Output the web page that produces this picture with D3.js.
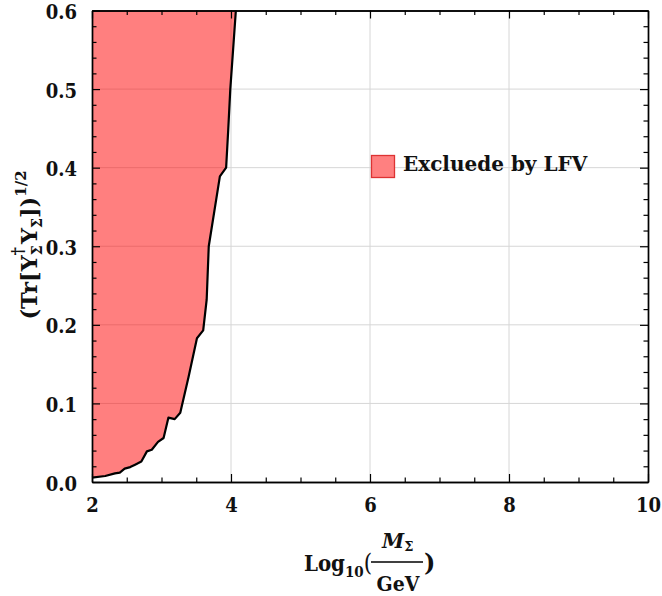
<!DOCTYPE html>
<html>
<head>
<meta charset="utf-8">
<script src="https://cdn.jsdelivr.net/npm/d3@7"></script>
<style>
  html, body { margin: 0; padding: 0; background: #fff; }
  svg text { font-family: 'DejaVu Serif', serif; font-weight: bold; fill: #111; }
  svg text.cond { font-family: 'DejaVu Serif Condensed', 'DejaVu Serif', serif; font-stretch: condensed; }
</style>
</head>
<body>
<svg id="chart" width="662" height="596"></svg>
<script>
// Lower bound on log10(M_Sigma / GeV) from LFV, versus Yukawa norm
const logMass = [2.00, 2.19, 2.33, 2.40, 2.47, 2.55, 2.62, 2.71, 2.79, 2.86, 2.95, 3.03, 3.10, 3.19, 3.27, 3.39, 3.51, 3.60, 3.65, 3.68, 3.84, 3.93, 3.96, 3.99, 4.07];
const yukawaBound = [0.0055, 0.0076, 0.011, 0.012, 0.017, 0.019, 0.022, 0.026, 0.039, 0.041, 0.051, 0.056, 0.082, 0.080, 0.088, 0.134, 0.183, 0.193, 0.232, 0.300, 0.389, 0.400, 0.448, 0.500, 0.600];

const xMajorTicks = [2, 4, 6, 8, 10];
const yMajorTicks = [0.0, 0.1, 0.2, 0.3, 0.4, 0.5, 0.6];
const xDomain = [2, 10];
const yDomain = [0, 0.6];
const legendLabel = "Excluede by LFV";

const svg = d3.select("#chart");
const m = { left: 92, top: 10.5, right: 14, bottom: 114 };
const W = 662, H = 596;
const x = d3.scaleLinear().domain(xDomain).range([m.left, W - m.right]);
const y = d3.scaleLinear().domain(yDomain).range([H - m.bottom, m.top]);

const xMinor = d3.range(xDomain[0], xDomain[1] + 1e-9, 0.5).filter(v => !xMajorTicks.includes(v));
const yMinor = d3.range(0, 0.6001, 0.02).map(v => +v.toFixed(2)).filter(v => !yMajorTicks.some(t => Math.abs(t - v) < 1e-9));

// grid
const grid = svg.append("g").attr("stroke", "#d6d6d6").attr("stroke-width", 1);
xMajorTicks.slice(1, -1).forEach(v => grid.append("line").attr("x1", x(v)).attr("x2", x(v)).attr("y1", y(0)).attr("y2", y(0.6)));
yMajorTicks.slice(1, -1).forEach(v => grid.append("line").attr("x1", x(2)).attr("x2", x(10)).attr("y1", y(v)).attr("y2", y(v)));

// excluded region: left of the bound curve
const pts = logMass.map((d, i) => [d, yukawaBound[i]]);
const region = pts.concat([[logMass[logMass.length - 1], 0.6], [2, 0.6]]);
svg.append("path")
  .attr("d", d3.line().x(d => x(d[0])).y(d => y(d[1]))(region) + "Z")
  .attr("fill", "#ff0000").attr("fill-opacity", 0.5).attr("stroke", "none");
svg.append("path")
  .attr("d", d3.line().x(d => x(d[0])).y(d => y(d[1]))(pts))
  .attr("fill", "none").attr("stroke", "#000").attr("stroke-width", 2.2).attr("stroke-linejoin", "round");

// axes with inward ticks, mirrored on all four sides
function styleAxis(g) {
  g.select(".domain").attr("stroke", "#000").attr("stroke-width", 1.4);
  g.selectAll(".tick line").attr("stroke", "#000").attr("stroke-width", 1.2);
}
const bottom = d3.axisBottom(x).tickValues(xMajorTicks).tickSize(-8).tickSizeOuter(0).tickPadding(16).tickFormat(d3.format("d"));
const left = d3.axisLeft(y).tickValues(yMajorTicks).tickSize(-8).tickSizeOuter(0).tickPadding(15).tickFormat(d3.format(".1f"));
svg.append("g").attr("transform", `translate(0,${y(0)})`).call(bottom).call(styleAxis);
const gl = svg.append("g").attr("transform", `translate(${x(2)},0)`).call(left).call(styleAxis);
gl.selectAll(".tick text").attr("dy", "0.4em");
svg.append("g").attr("transform", `translate(0,${y(0)})`).call(d3.axisBottom(x).tickValues(xMinor).tickSize(-4.5).tickSizeOuter(0).tickFormat("")).call(styleAxis);
svg.append("g").attr("transform", `translate(${x(2)},0)`).call(d3.axisLeft(y).tickValues(yMinor).tickSize(-4.5).tickSizeOuter(0).tickFormat("")).call(styleAxis);
svg.append("g").attr("transform", `translate(0,${y(0.6)})`).call(d3.axisTop(x).tickValues(xMajorTicks).tickSize(-8).tickSizeOuter(0).tickFormat("")).call(styleAxis);
svg.append("g").attr("transform", `translate(0,${y(0.6)})`).call(d3.axisTop(x).tickValues(xMinor).tickSize(-4.5).tickSizeOuter(0).tickFormat("")).call(styleAxis);
svg.append("g").attr("transform", `translate(${x(10)},0)`).call(d3.axisRight(y).tickValues(yMajorTicks).tickSize(-8).tickSizeOuter(0).tickFormat("")).call(styleAxis);
svg.append("g").attr("transform", `translate(${x(10)},0)`).call(d3.axisRight(y).tickValues(yMinor).tickSize(-4.5).tickSizeOuter(0).tickFormat("")).call(styleAxis);

svg.selectAll(".tick text").attr("class", "cond").attr("font-size", 20).attr("font-family", null).attr("fill", "#111");

// legend
svg.append("rect").attr("x", 371.5).attr("y", 155.5).attr("width", 23).attr("height", 22)
  .attr("fill", "#ff8080").attr("stroke", "#d33").attr("stroke-width", 1.3);
svg.append("text").attr("x", 403).attr("y", 171).attr("font-size", 20).text(legendLabel);

// x-axis title: Log10(M_Sigma / GeV)
const xt = svg.append("g");
const logTxt = xt.append("text").attr("class", "cond").attr("x", 304).attr("y", 571).attr("font-size", 22);
logTxt.append("tspan").text("Log");
logTxt.append("tspan").attr("font-size", 15).attr("dy", 6).text("10");
logTxt.append("tspan").attr("dy", -6).attr("font-weight", "normal").attr("font-size", 24).text("(");
xt.append("line").attr("x1", 371).attr("x2", 423).attr("y1", 562).attr("y2", 562).attr("stroke", "#000").attr("stroke-width", 1.6);
const num = xt.append("text").attr("x", 382).attr("y", 548).attr("font-size", 20);
num.append("tspan").attr("font-style", "italic").text("M");
num.append("tspan").attr("font-size", 13).attr("dy", 3).text("Σ");
xt.append("text").attr("class", "cond").attr("x", 398).attr("y", 591).attr("text-anchor", "middle").attr("font-size", 21).text("GeV");
xt.append("text").attr("x", 424).attr("y", 571).attr("font-size", 24).attr("font-weight", "normal").text(")");

// y-axis title: (Tr[Y_Sigma^dagger Y_Sigma])^(1/2)
const yt = svg.append("text").attr("transform", "translate(37,245) rotate(-90)").attr("text-anchor", "middle").attr("font-size", 22.5);
yt.append("tspan").text("(Tr[Y");
yt.append("tspan").attr("font-size", 14).attr("dy", 5).text("Σ");
yt.append("tspan").attr("font-size", 16).attr("dx", -10).attr("dy", -19).text("†");
yt.append("tspan").attr("dx", 3).attr("dy", 14).text("Y");
yt.append("tspan").attr("font-size", 14).attr("dy", 5).text("Σ");
yt.append("tspan").attr("dy", -5).text("])");
yt.append("tspan").attr("font-size", 15).attr("dy", -11).text("1/2");
</script>
</body>
</html>
